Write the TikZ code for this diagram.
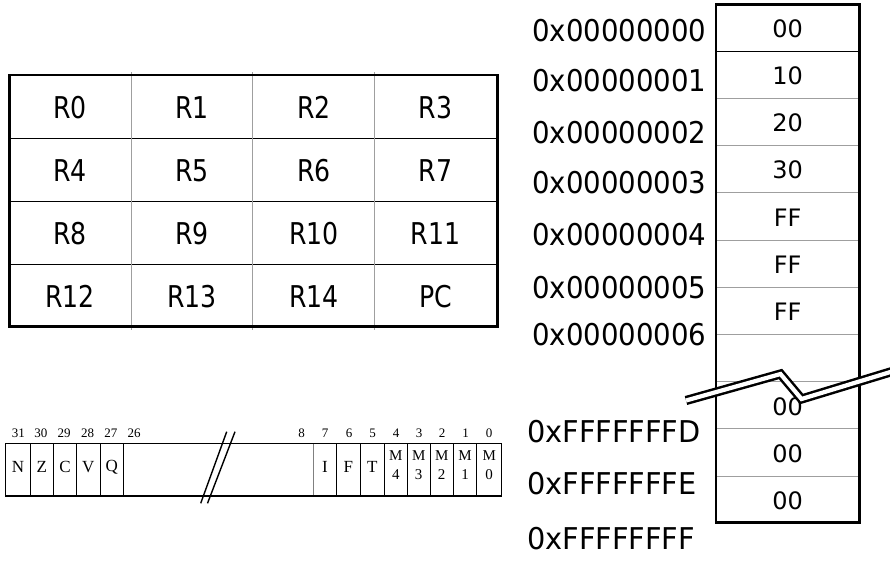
\documentclass[tikz,border=0pt]{standalone}
\usepackage{fontspec}
\setmainfont{Liberation Serif}
\newfontfamily\regfont[FakeStretch=0.84]{DejaVu Sans}
\newfontfamily\addrfont[FakeStretch=0.92]{DejaVu Sans}
\newfontfamily\addrFfont[FakeStretch=0.96]{DejaVu Sans}
\newfontfamily\memfont{DejaVu Sans}
\tikzset{
  regtxt/.style={font=\regfont\fontsize{30}{30}\selectfont, inner sep=0pt},
  addrtxt/.style={font=\addrfont\fontsize{30}{30}\selectfont, inner sep=0pt},
  addrFtxt/.style={font=\addrFfont\fontsize{30}{30}\selectfont, inner sep=0pt},
  memtxt/.style={font=\memfont\fontsize{24}{24}\selectfont, inner sep=0pt},
  bittxt/.style={font=\fontsize{13}{13}\selectfont, inner sep=0pt},
  flagtxt/.style={font=\fontsize{17}{17}\selectfont, inner sep=0pt},
  modetxt/.style={font=\fontsize{15}{15}\selectfont, inner sep=0pt},
  thickbox/.style={line width=2.5pt},
  thinblack/.style={line width=1pt, black},
  thingray/.style={line width=1pt, gray!75},
  breakband/.style={line width=2.5pt, double=white, double distance=4.2pt},
}
\begin{document}
\begin{tikzpicture}[x=1pt, y=-1pt]
\useasboundingbox (0,0) rectangle (890,579);

% ---------------- register table ----------------
\foreach \yy in {138.3,201,264} \draw[thinblack] (9.3,\yy) -- (497.3,\yy);
\foreach \xx in {131,252.7,374.3} \draw[thingray] (\xx,72) -- (\xx,330);
\draw[thickbox] (9.3,75) rectangle (497.3,326.7);
\foreach \n [count=\i from 0] in {R0,R1,R2,R3,R4,R5,R6,R7,R8,R9,R10,R11,R12,R13,R14,PC}{
  \pgfmathsetmacro{\cx}{70.2+121.8*mod(\i,4)}
  \pgfmathsetmacro{\cy}{107.5+62.9*int(\i/4)}
  \node[regtxt] (reg\i) at (\cx,\cy) {\n};
}

% ---------------- memory ----------------
\foreach \yy in {51.3} \draw[thinblack] (716,\yy) -- (859.3,\yy);
\foreach \yy in {98.5,145.7,192.9,240.1,287.3,334.5,381.7,428.9,476.1} \draw[thingray] (716,\yy) -- (859.3,\yy);
\draw[thickbox] (716,4.3) rectangle (859.3,522.5);
\foreach \v/\yy [count=\i] in {00/28.5,10/75.7,20/122.9,30/170.1,FF/217.3,FF/264.5,FF/311.7,00/406.3,00/453.5,00/500.7}
  \node[memtxt] (mem\i) at (787.6,\yy) {\v};

\node[addrtxt, anchor=west] (a0) at (532,31) {0x00000000};
\node[addrtxt, anchor=west] (a1) at (532,81) {0x00000001};
\node[addrtxt, anchor=west] (a2) at (532,133) {0x00000002};
\node[addrtxt, anchor=west] (a3) at (532,183) {0x00000003};
\node[addrtxt, anchor=west] (a4) at (532,235) {0x00000004};
\node[addrtxt, anchor=west] (a5) at (532,288) {0x00000005};
\node[addrtxt, anchor=west] (a6) at (532,335) {0x00000006};
\node[addrFtxt, anchor=west] (aD) at (527,432) {0xFFFFFFFD};
\node[addrFtxt, anchor=west] (aE) at (527,484) {0xFFFFFFFE};
\node[addrFtxt, anchor=west] (aF) at (527,539) {0xFFFFFFFF};

% break band
\draw[breakband] (686,400.5) -- (780.5,374) -- (801.5,399) -- (892,371.5);

% ---------------- status register ----------------
\foreach \xx in {30,53.3,76.7,100,123.3,336.7,360,384.3,407.3,430,453.3,476.7}
  \draw[line width=0.9pt] (\xx,443.3) -- (\xx,496);
\draw[line width=0.6pt, gray] (313.3,443.3) -- (313.3,496);
\draw[line width=1.5pt] (5.7,443.3) rectangle (501.7,496);
\draw[line width=1.4pt] (200.7,503.3) -- (226.7,431.7);
\draw[line width=1.4pt] (207.5,503.3) -- (235,431.7);

\foreach \t/\xx [count=\i] in {N/17.9,Z/41.7,C/65,V/88.3,Q/111.7,I/325,F/348.3,T/372.2}
  \node[flagtxt] (fl\i) at (\xx,467) {\t};
\foreach \d/\xx in {4/395.8,3/418.7,2/441.7,1/465,0/489.2}{
  \node[modetxt] (mm\d) at (\xx,455.5) {M};
  \node[modetxt] (md\d) at (\xx,475) {\d};
}
\foreach \b/\xx in {31/18.3,30/40.8,29/64.2,28/87.5,27/110.8,26/134,8/301.7,7/325,6/349,5/372.5,4/396,3/419,2/442,1/465.5,0/489}
  \node[bittxt] (bit\b) at (\xx,433.5) {\b};
\end{tikzpicture}
\end{document}
